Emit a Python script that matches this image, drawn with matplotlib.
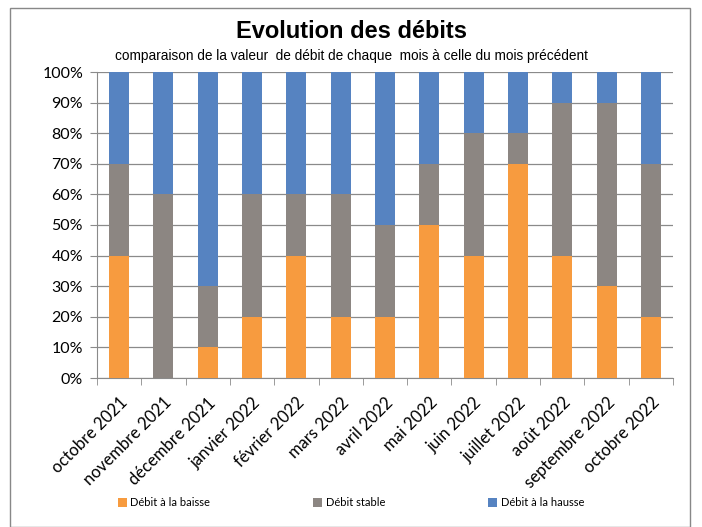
import matplotlib
matplotlib.use("Agg")
import matplotlib.pyplot as plt
from matplotlib.patches import Rectangle
import numpy as np

months = ["octobre 2021", "novembre 2021", "décembre 2021", "janvier 2022", "février 2022",
          "mars 2022", "avril 2022", "mai 2022", "juin 2022", "juillet 2022", "août 2022",
          "septembre 2022", "octobre 2022"]
baisse = [40, 0, 10, 20, 40, 20, 20, 50, 40, 70, 40, 30, 20]
stable = [30, 60, 20, 40, 20, 40, 30, 20, 40, 10, 50, 60, 50]
hausse = [30, 40, 70, 40, 40, 40, 50, 30, 20, 20, 10, 10, 30]

c_baisse = "#F79B3F"
c_stable = "#8C8682"
c_hausse = "#5683C1"

fam = ["Liberation Sans Narrow", "Liberation Sans", "DejaVu Sans"]
cal = ["Lato", "DejaVu Sans"]

fig = plt.figure(figsize=(7.02, 5.27), dpi=100)
fig.patches.append(Rectangle((10/702, 0), 680/702, 1 - 8/527, transform=fig.transFigure,
                             fill=False, edgecolor="#888888", linewidth=1.0))

ax = fig.add_axes([97/702, 1 - 378/527, (673 - 97)/702, (378 - 72)/527])
x = np.arange(len(months))
w = 0.45
b = np.array(baisse); s = np.array(stable); h = np.array(hausse)
ax.bar(x, b, w, color=c_baisse, label="Débit à la baisse", zorder=3)
ax.bar(x, s, w, bottom=b, color=c_stable, label="Débit stable", zorder=3)
ax.bar(x, h, w, bottom=b + s, color=c_hausse, label="Débit à la hausse", zorder=3)

ax.set_xlim(-0.5, len(months) - 0.5)
ax.set_ylim(0, 100)
ax.set_yticks(np.arange(0, 101, 10))
ax.set_yticklabels([f"{v}%" for v in range(0, 101, 10)], fontsize=11.5, family=cal)
ax.yaxis.grid(True, color="#8a8a8a", linewidth=0.9, zorder=0)
ax.set_axisbelow(True)
for sp in ["top", "right"]:
    ax.spines[sp].set_visible(False)
ax.spines["bottom"].set_color("#8a8a8a")
ax.spines["left"].set_color("#8a8a8a")
ax.tick_params(axis="y", length=5, color="#8a8a8a", pad=5)

ax.set_xticks(x)
ax.set_xticklabels(months, rotation=45, ha="right", rotation_mode="anchor",
                   fontsize=12, family=cal)
ax.tick_params(axis="x", length=0, pad=12)
ax.set_xticks(np.arange(-0.5, len(months)), minor=True)
ax.tick_params(axis="x", which="minor", length=5, color="#8a8a8a")

fig.text(0.5, 1 - 32/527, "Evolution des débits", ha="center", va="center",
         fontsize=17, fontweight="bold", family=["Liberation Sans", "DejaVu Sans"])
fig.text(0.5, 1 - 56/527, "comparaison de la valeur  de débit de chaque  mois à celle du mois précédent",
         ha="center", va="center", fontsize=9.8, family=fam)

leg = fig.legend(loc="center", bbox_to_anchor=(0.5, 1 - 503/527), ncol=3, frameon=False,
                 handlelength=0.8, handleheight=0.8, handletextpad=0.3,
                 columnspacing=9.3, prop={"family": cal, "size": 8})

fig.savefig("out.png", dpi=100)
